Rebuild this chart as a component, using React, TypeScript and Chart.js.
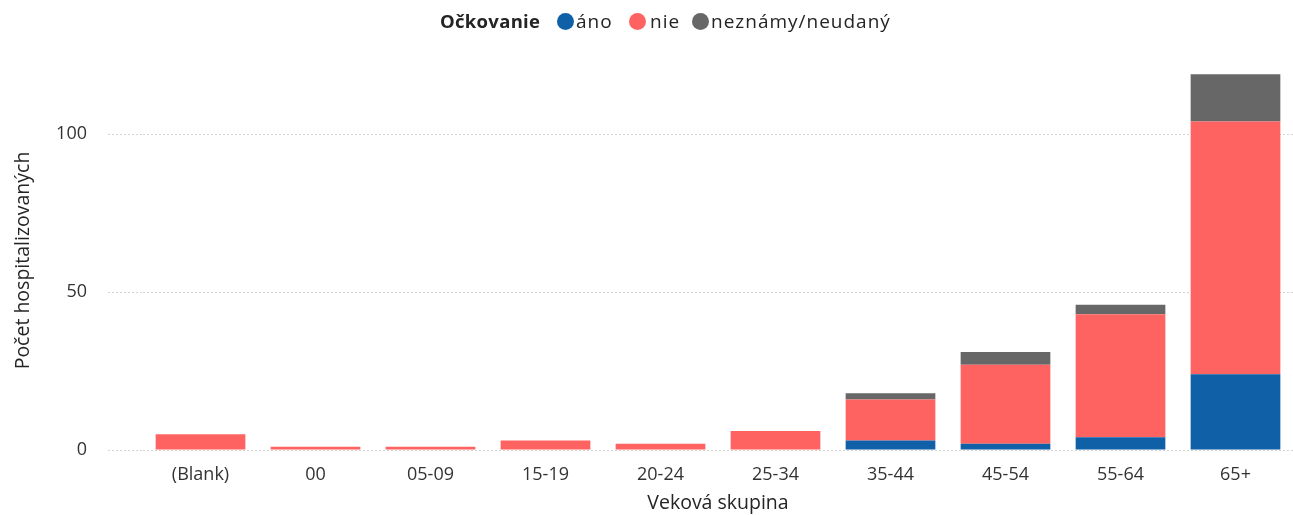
import React, { useEffect, useRef } from "react";
import { Chart, registerables } from "chart.js";

Chart.register(...registerables);

const categories = ["(Blank)", "00", "05-09", "15-19", "20-24", "25-34", "35-44", "45-54", "55-64", "65+"];
const ano = [0, 0, 0, 0, 0, 0, 3, 2, 4, 24];
const nie = [5, 1, 1, 3, 2, 6, 13, 25, 39, 80];
const neznamy = [0, 0, 0, 0, 0, 0, 2, 4, 3, 15];
const yTicks = [0, 50, 100];

const BLUE = "#1060A8";
const RED = "#FF6361";
const GRAY = "#676767";
const FONT = "'Open Sans', 'Noto Sans', sans-serif";

export default function App() {
  const ref = useRef<HTMLCanvasElement | null>(null);

  useEffect(() => {
    if (!ref.current) return;
    const chart = new Chart(ref.current, {
      type: "bar",
      data: {
        labels: categories,
        datasets: [
          { label: "áno", data: ano, backgroundColor: BLUE },
          { label: "nie", data: nie, backgroundColor: RED },
          { label: "neznámy/neudaný", data: neznamy, backgroundColor: GRAY },
        ],
      },
      options: {
        animation: false,
        responsive: false,
        maintainAspectRatio: false,
        layout: { padding: { top: 71, left: 0, right: 0, bottom: 0 } },
        datasets: { bar: { categoryPercentage: 0.78, barPercentage: 1 } },
        plugins: {
          legend: { display: false },
          tooltip: { enabled: false },
        },
        scales: {
          x: {
            stacked: true,
            grid: { display: false, drawTicks: false },
            border: { display: false },
            ticks: { color: "#333333", font: { family: FONT, size: 18 }, padding: 14, maxRotation: 0 },
            title: {
              display: true,
              text: "Veková skupina",
              color: "#252423",
              font: { family: FONT, size: 19.5 },
              padding: { top: 0, bottom: 0 },
            },
            afterFit: (s: any) => {
              s.height = 65;
            },
          },
          y: {
            stacked: true,
            min: 0,
            max: 120,
            afterBuildTicks: (s: any) => {
              s.ticks = yTicks.map((v) => ({ value: v }));
            },
            grid: {
              color: "#D4D4D4",
              lineWidth: 1,
              tickLength: 35,
              tickColor: "#D4D4D4",
              tickBorderDash: [2, 2],
            },
            border: { display: false, dash: [2, 2] },
            ticks: { color: "#333333", font: { family: FONT, size: 18 }, padding: 21 },
            title: {
              display: true,
              text: "Počet hospitalizovaných",
              color: "#252423",
              font: { family: FONT, size: 19.5 },
              padding: { top: 12, bottom: 0 },
            },
            afterFit: (s: any) => {
              s.width = 143;
            },
          },
        },
      },
    } as any);
    (chart.options.scales as any).y.grid.borderDash = [2, 2];
    chart.update();
    return () => chart.destroy();
  }, []);

  const textStyle: React.CSSProperties = {
    position: "absolute",
    top: 6,
    fontFamily: FONT,
    fontSize: 19,
    letterSpacing: "1px",
    lineHeight: "30px",
    color: "#252423",
    whiteSpace: "nowrap",
  };
  const dot = (left: number, color: string): React.CSSProperties => ({
    position: "absolute",
    top: 13,
    left,
    width: 17,
    height: 17,
    borderRadius: "50%",
    background: color,
  });

  return (
    <div style={{ position: "absolute", left: 0, top: 0, width: 1293, height: 515, background: "#fff" }}>
      <canvas ref={ref} width={1293} height={515} style={{ position: "absolute", left: 0, top: 0 }} />
      <span style={{ ...textStyle, left: 440, fontSize: 18.5, letterSpacing: "0.3px", fontWeight: 700 }}>Očkovanie</span>
      <span style={dot(557, BLUE)} />
      <span style={{ ...textStyle, left: 576 }}>áno</span>
      <span style={dot(629, RED)} />
      <span style={{ ...textStyle, left: 650 }}>nie</span>
      <span style={dot(692, GRAY)} />
      <span style={{ ...textStyle, left: 711 }}>neznámy/neudaný</span>
    </div>
  );
}
